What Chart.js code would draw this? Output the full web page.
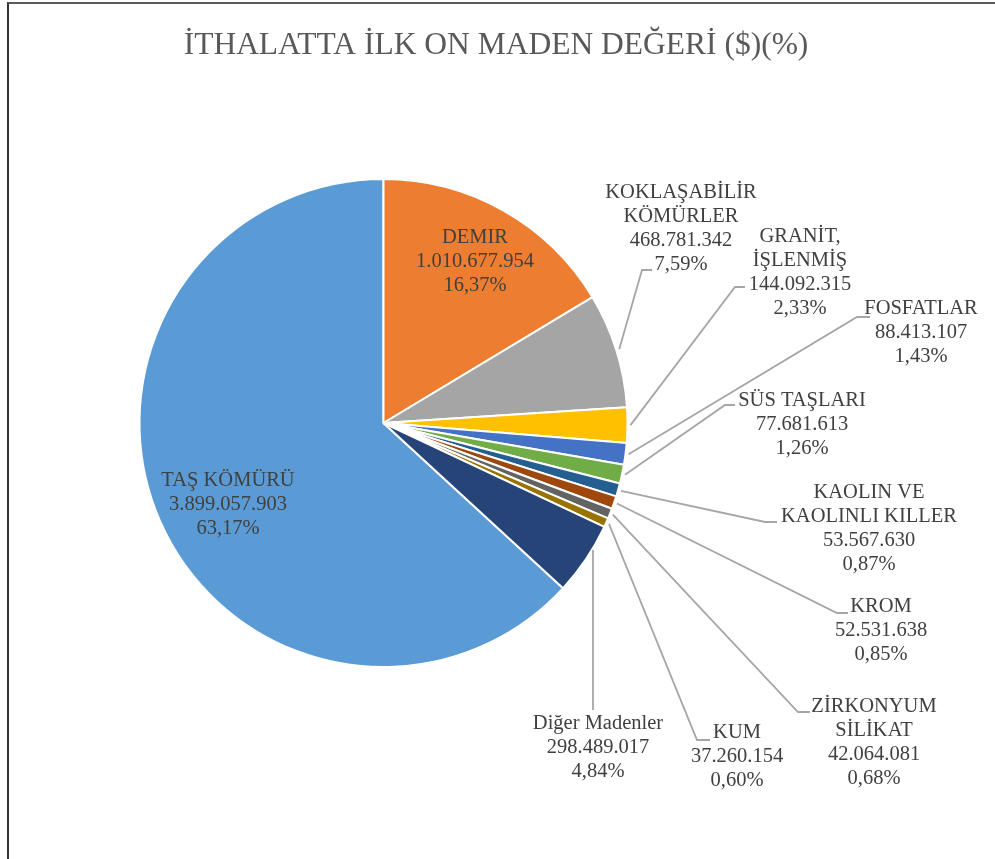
<!DOCTYPE html>
<html lang="tr">
<head>
    <meta charset="UTF-8">
    <title>İthalatta İlk On Maden Değeri</title>
    <script src="https://cdn.jsdelivr.net/npm/chart.js"></script>
    <style>
        html, body {
            margin: 0;
            padding: 0;
            background: #fff;
            overflow: hidden;
            font-family: "Liberation Serif", "Times New Roman", serif;
        }

        .frame {
            position: absolute;
            left: 7px;
            top: 2px;
            width: 1000px;
            height: 900px;
            border-left: 2px solid #333;
            border-top: 2px solid #5a5a5a;
        }

        canvas {
            position: absolute;
            left: 0;
            top: 0;
        }
    </style>
</head>
<body>
    <div class="frame"></div>
    <canvas id="pie" width="995" height="859"></canvas>

    <script>
        // Data (order as in the source sheet)
        const categories = [
            ['TAŞ KÖMÜRÜ'],
            ['DEMIR'],
            ['KOKLAŞABİLİR', 'KÖMÜRLER'],
            ['GRANİT,', 'İŞLENMİŞ'],
            ['FOSFATLAR'],
            ['SÜS TAŞLARI'],
            ['KAOLIN VE', 'KAOLINLI KILLER'],
            ['KROM'],
            ['ZİRKONYUM', 'SİLİKAT'],
            ['KUM'],
            ['Diğer Madenler']
        ];
        const values = [
            3899057903, 1010677954, 468781342, 144092315, 88413107,
            77681613, 53567630, 52531638, 42064081, 37260154, 298489017
        ];

        // Office palette
        const colors = [
            '#5b9bd5', '#ed7d31', '#a5a5a5', '#ffc000', '#4472c4', '#70ad47',
            '#255e91', '#9e480e', '#636363', '#997300', '#264478'
        ];

        // where each data label sits (text centre x, first line centre y)
        // and the bend of its leader line
        const labelBoxes = [
            { x: 228, y: 481, inside: true },
            { x: 475, y: 238, inside: true },
            { x: 681, y: 193, elbow: [642, 270], tail: [652, 270] },
            { x: 800, y: 237, elbow: [735, 287], tail: [745, 287] },
            { x: 921, y: 309, elbow: [857, 317], tail: [870, 317] },
            { x: 802, y: 401, elbow: [725, 405], tail: [735, 405] },
            { x: 869, y: 493, elbow: [765, 522], tail: [777, 522] },
            { x: 881, y: 607, elbow: [837, 613], tail: [848, 613] },
            { x: 874, y: 707, elbow: [798, 712], tail: [810, 712] },
            { x: 737, y: 733, elbow: [697, 740], tail: [710, 740] },
            { x: 598, y: 724, vertical: true, tail: [593, 710] }
        ];

        const total = values.reduce((a, b) => a + b, 0);
        const fmtNumber = v => String(v).replace(/\B(?=(\d{3})+(?!\d))/g, '.');
        const fmtPct = v => (v / total * 100).toFixed(2).replace('.', ',') + '%';

        const SERIF = '"Liberation Serif", "Times New Roman", serif';
        const LINE_H = 24;

        // title + data labels with leader lines
        const pieLabels = {
            id: 'pieLabels',
            afterDatasetsDraw(chart) {
                const ctx = chart.ctx;
                const arcs = chart.getDatasetMeta(0).data;
                ctx.save();

                ctx.fillStyle = '#595959';
                ctx.font = '31.5px ' + SERIF;
                ctx.textAlign = 'center';
                ctx.textBaseline = 'alphabetic';
                ctx.fillText('İTHALATTA İLK ON MADEN DEĞERİ ($)(%)', 496, 53.5);

                arcs.forEach((arc, i) => {
                    const box = labelBoxes[i];
                    const { x, y, startAngle, endAngle, outerRadius } =
                        arc.getProps(['x', 'y', 'startAngle', 'endAngle', 'outerRadius'], true);
                    const mid = (startAngle + endAngle) / 2;

                    if (!box.inside) {
                        ctx.strokeStyle = '#a6a6a6';
                        ctx.lineWidth = 1.8;
                        ctx.beginPath();
                        if (box.vertical) {
                            const dx = box.tail[0] - x;
                            ctx.moveTo(box.tail[0], y + Math.sqrt(outerRadius * outerRadius - dx * dx) + 2);
                        } else {
                            ctx.moveTo(x + Math.cos(mid) * (outerRadius + 3), y + Math.sin(mid) * (outerRadius + 3));
                        }
                        if (box.elbow) ctx.lineTo(box.elbow[0], box.elbow[1]);
                        ctx.lineTo(box.tail[0], box.tail[1]);
                        ctx.stroke();
                    }

                    const lines = [...categories[i], fmtNumber(values[i]), fmtPct(values[i])];
                    ctx.fillStyle = '#404040';
                    ctx.font = '20.5px ' + SERIF;
                    ctx.textAlign = 'center';
                    ctx.textBaseline = 'middle';
                    lines.forEach((t, k) => ctx.fillText(t, box.x, box.y + k * LINE_H));
                });
                ctx.restore();
            }
        };

        new Chart(document.getElementById('pie'), {
            type: 'pie',
            data: {
                labels: categories.map(c => c.join(' ')),
                datasets: [{
                    data: values,
                    backgroundColor: colors,
                    borderColor: '#ffffff',
                    borderWidth: 2,
                    hoverOffset: 0
                }]
            },
            options: {
                responsive: false,
                animation: false,
                rotation: 360 * (1 - values[0] / total),
                radius: 244,
                layout: {
                    padding: { left: 140, right: 368, top: 180, bottom: 193 }
                },
                plugins: {
                    legend: { display: false },
                    title: { display: false },
                    tooltip: { enabled: false }
                }
            },
            plugins: [pieLabels]
        });
    </script>
</body>
</html>
